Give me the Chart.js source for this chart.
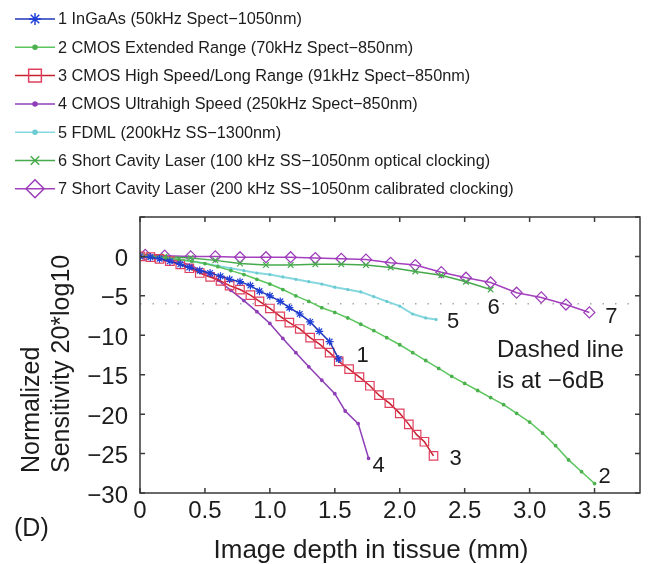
<!DOCTYPE html>
<html>
<head>
<meta charset="utf-8">
<script src="https://cdn.jsdelivr.net/npm/chart.js@4.4.1/dist/chart.umd.min.js"></script>
<style>
html, body { margin: 0; padding: 0; background: #fff; }
</style>
</head>
<body>
<canvas id="myCanvas" width="667" height="564"></canvas>
<script>
var seriesNames = [
    '1 InGaAs (50kHz Spect\u22121050nm)',
    '2 CMOS Extended Range (70kHz Spect\u2212850nm)',
    '3 CMOS High Speed/Long Range (91kHz Spect\u2212850nm)',
    '4 CMOS Ultrahigh Speed (250kHz Spect\u2212850nm)',
    '5 FDML (200kHz SS\u22121300nm)',
    '6 Short Cavity Laser (100 kHz SS\u22121050nm optical clocking)',
    '7 Short Cavity Laser (200 kHz SS\u22121050nm calibrated clocking)'
]

// depth in mm, sensitivity in dB
var depth1 = [0.00,0.08,0.15,0.23,0.31,0.38,0.46,0.54,0.62,0.69,0.77,0.85,0.92,1.00,1.08,1.15,1.23,1.31,1.38,1.46,1.53]
var sens1  = [0,-0.1,-0.3,-0.6,-1.0,-1.4,-1.8,-2.1,-2.5,-2.9,-3.2,-3.7,-4.4,-5.0,-5.7,-6.5,-7.3,-8.3,-9.5,-10.8,-13.0]

var depth2 = [0,0.1,0.2,0.3,0.4,0.5,0.6,0.7,0.8,0.9,1.0,1.1,1.2,1.3,1.4,1.5,1.6,1.7,1.8,1.9,2.0,2.1,2.2,2.3,2.4,2.5,2.6,2.7,2.8,2.9,3.0,3.1,3.2,3.3,3.4,3.5]
var sens2  = [0,-0.05,-0.2,-0.4,-0.6,-0.9,-1.3,-1.8,-2.3,-2.9,-3.5,-4.2,-5.0,-5.7,-6.5,-7.1,-7.8,-8.6,-9.4,-10.3,-11.2,-12.2,-13.2,-14.2,-15.2,-16.1,-17.0,-17.9,-18.8,-19.9,-21.0,-22.4,-24.0,-25.8,-27.3,-28.8]

var depth3 = [0.00,0.08,0.15,0.23,0.31,0.38,0.46,0.54,0.62,0.69,0.77,0.85,0.92,1.00,1.08,1.15,1.23,1.31,1.38,1.46,1.53,1.61,1.69,1.77,1.84,1.92,2.00,2.07,2.13,2.19,2.26]
var sens3  = [0,-0.1,-0.3,-0.6,-1.0,-1.5,-2.1,-2.6,-3.1,-3.7,-4.2,-4.9,-5.7,-6.6,-7.6,-8.4,-9.2,-10.3,-11.1,-12.2,-13.3,-14.3,-15.3,-16.4,-17.6,-18.6,-19.9,-21.3,-22.6,-23.5,-25.3]

var depth4 = [0,0.1,0.2,0.3,0.4,0.5,0.6,0.7,0.8,0.9,1.0,1.1,1.2,1.3,1.4,1.5,1.58,1.68,1.76]
var sens4  = [0,-0.1,-0.3,-0.6,-1.2,-2.0,-3.0,-4.3,-5.6,-7.0,-8.5,-10.4,-12.2,-14.0,-15.7,-17.4,-19.6,-21.2,-25.6]

var depth5 = [0,0.1,0.2,0.3,0.4,0.5,0.6,0.7,0.8,0.9,1.0,1.1,1.2,1.3,1.4,1.5,1.6,1.7,1.8,1.9,2.0,2.1,2.2,2.28]
var sens5  = [0,-0.1,-0.2,-0.4,-0.6,-0.9,-1.2,-1.5,-1.8,-2.1,-2.3,-2.6,-2.9,-3.2,-3.5,-3.9,-4.2,-4.5,-5.1,-5.7,-6.3,-7.3,-7.8,-8.0]

var depth6 = [0.04,0.19,0.39,0.58,0.77,0.97,1.16,1.35,1.55,1.74,1.93,2.12,2.32,2.51,2.70]
var sens6  = [0.1,0,-0.2,-0.5,-0.9,-1.1,-1.1,-1.0,-1.0,-1.1,-1.4,-1.9,-2.4,-3.2,-4.2]

var depth7 = [0.04,0.19,0.39,0.58,0.77,0.97,1.16,1.35,1.55,1.74,1.93,2.12,2.32,2.51,2.70,2.90,3.09,3.28,3.46]
var sens7  = [0.2,0.1,0,0,-0.1,-0.1,-0.1,-0.2,-0.3,-0.4,-0.8,-1.1,-2.0,-2.7,-3.3,-4.6,-5.2,-6.1,-7.1]

var dashedLevel = -6
var dashedSpan = [0, 3.85]

var xTickLabels = ['0','0.5','1.0','1.5','2.0','2.5','3.0','3.5']
var yTickLabels = ['\u221230','\u221225','\u221220','\u221215','\u221210','\u22125','0','']

var FONT = "'Liberation Sans', Arial, Helvetica, sans-serif"
var INK = '#1c1c1c'

function pts(xs, ys) {
    return xs.map(function (x, i) { return { x: x, y: ys[i] } })
}

// line colour, marker colour, marker, plot radius, legend radius
var looks = [
    { line: '#2036b8', mark: '#2040d8', style: 'star',     r: 4,   lr: 6 },
    { line: '#5cc55e', mark: '#4cb04e', style: 'circle',   r: 1.3, lr: 2 },
    { line: '#c8202e', mark: '#e0405e', style: 'rect',     r: 6,   lr: 9 },
    { line: '#8e3fb8', mark: '#8e3fb8', style: 'circle',   r: 1.3, lr: 2 },
    { line: '#86d8de', mark: '#6ccbd2', style: 'circle',   r: 1,   lr: 2 },
    { line: '#46aa4c', mark: '#46aa4c', style: 'crossRot', r: 4,   lr: 6 },
    { line: '#a43fbe', mark: '#9a3bb8', style: 'rectRot',  r: 5.5, lr: 9 }
]
var allDepth = [depth1, depth2, depth3, depth4, depth5, depth6, depth7]
var allSens  = [sens1, sens2, sens3, sens4, sens5, sens6, sens7]

var datasets = allDepth.map(function (d, i) {
    var lk = looks[i]
    return {
        label: seriesNames[i],
        data: pts(d, allSens[i]),
        borderColor: lk.line,
        borderWidth: i === 4 ? 2 : 1.5,
        pointStyle: lk.style,
        pointRadius: lk.r,
        pointBorderColor: lk.mark,
        pointBackgroundColor: (lk.style === 'circle') ? lk.mark : 'rgba(0,0,0,0)',
        pointBorderWidth: 1.2,
        tension: 0,
        fill: false
    }
})
datasets.push({
    label: '',
    data: pts(dashedSpan, [dashedLevel, dashedLevel]),
    borderColor: '#a8a8a8',
    borderWidth: 1.5,
    borderDash: [1.5, 11],
    pointRadius: 0,
    fill: false
})

// curve number offsets from each curve's last point (px)
var tagOffsets = [[24,-3],[10,-7],[22,3],[10,8],[17,2],[3,18],[22,5]]

function mark(ctx, style, r, x, y) {
    if (Chart.helpers && Chart.helpers.drawPoint) {
        Chart.helpers.drawPoint(ctx, { pointStyle: style, radius: r, borderWidth: 1.2, rotation: 0 }, x, y)
    }
}

var decor = {
    id: 'decor',
    afterDraw: function (chart) {
        var ctx = chart.ctx, a = chart.chartArea
        var xs = chart.scales.x, ys = chart.scales.y
        ctx.save()

        // box with inward ticks
        ctx.strokeStyle = '#3a3a3a'
        ctx.lineWidth = 1.5
        ctx.strokeRect(a.left, a.top, a.right - a.left, a.bottom - a.top)
        ctx.beginPath()
        xs.ticks.forEach(function (t) {
            var p = xs.getPixelForValue(t.value)
            ctx.moveTo(p, a.bottom); ctx.lineTo(p, a.bottom - 5)
            ctx.moveTo(p, a.top); ctx.lineTo(p, a.top + 5)
        })
        ys.ticks.forEach(function (t) {
            var p = ys.getPixelForValue(t.value)
            ctx.moveTo(a.left, p); ctx.lineTo(a.left + 5, p)
            ctx.moveTo(a.right, p); ctx.lineTo(a.right - 5, p)
        })
        ctx.stroke()

        // legend
        ctx.font = '16.3px ' + FONT
        ctx.textBaseline = 'middle'
        ctx.textAlign = 'left'
        seriesNames.forEach(function (name, i) {
            var y = 19 + i * 28.3, lk = looks[i]
            ctx.strokeStyle = lk.line
            ctx.lineWidth = 1.5
            ctx.setLineDash([])
            ctx.beginPath(); ctx.moveTo(15, y); ctx.lineTo(55, y); ctx.stroke()
            ctx.strokeStyle = lk.mark
            ctx.fillStyle = lk.style === 'circle' ? lk.mark : 'rgba(0,0,0,0)'
            mark(ctx, lk.style, lk.lr, 35, y)
            ctx.fillStyle = INK
            ctx.fillText(name, 58, y + 1)
        })

        // curve numbers
        ctx.fillStyle = INK
        ctx.font = '22px ' + FONT
        ctx.textAlign = 'center'
        ctx.textBaseline = 'middle'
        allDepth.forEach(function (d, i) {
            var n = d.length - 1
            var px = xs.getPixelForValue(d[n]) + tagOffsets[i][0]
            var py = ys.getPixelForValue(allSens[i][n]) + tagOffsets[i][1]
            ctx.fillText(String(i + 1), px, py)
        })

        // note
        ctx.font = '24px ' + FONT
        ctx.textAlign = 'left'
        ctx.textBaseline = 'alphabetic'
        ctx.fillText('Dashed line', 497, 357)
        ctx.fillText('is at \u22126dB', 497, 388)

        // axis titles
        ctx.font = '26px ' + FONT
        ctx.textAlign = 'center'
        ctx.fillText('Image depth in tissue (mm)', 371, 558)
        ctx.font = '25px ' + FONT
        ctx.textAlign = 'left'
        ctx.fillText('(D)', 14, 536)
        ctx.save()
        ctx.translate(39, 473); ctx.rotate(-Math.PI / 2)
        ctx.fillText('Normalized', 0, 0)
        ctx.restore()
        ctx.save()
        ctx.translate(69, 473); ctx.rotate(-Math.PI / 2)
        ctx.fillText('Sensitivity 20*log10', 0, 0)
        ctx.restore()

        ctx.restore()
    }
}

var ctx = document.getElementById('myCanvas')
var myChart = new Chart(ctx, {
    type: 'line',
    data: { datasets: datasets },
    options: {
        responsive: false,
        animation: false,
        devicePixelRatio: 1,
        layout: { padding: { left: 0, top: 217, right: 27, bottom: 0 } },
        plugins: { legend: { display: false }, tooltip: { enabled: false } },
        scales: {
            x: {
                type: 'linear',
                min: 0, max: 3.85,
                afterFit: function (s) { s.height = 71 },
                grid: { display: false, drawTicks: false },
                border: { display: false },
                ticks: {
                    stepSize: 0.5,
                    includeBounds: false,
                    padding: 4,
                    color: INK,
                    font: { family: FONT, size: 24 },
                    maxRotation: 0,
                    callback: function (v, i) { return xTickLabels[i] }
                }
            },
            y: {
                min: -30, max: 5,
                afterFit: function (s) { s.width = 140 },
                grid: { display: false, drawTicks: false },
                border: { display: false },
                ticks: {
                    stepSize: 5,
                    padding: 12,
                    labelOffset: 3,
                    color: INK,
                    font: { family: FONT, size: 24 },
                    callback: function (v, i) { return yTickLabels[i] }
                }
            }
        }
    },
    plugins: [decor]
})
</script>
</body>
</html>
